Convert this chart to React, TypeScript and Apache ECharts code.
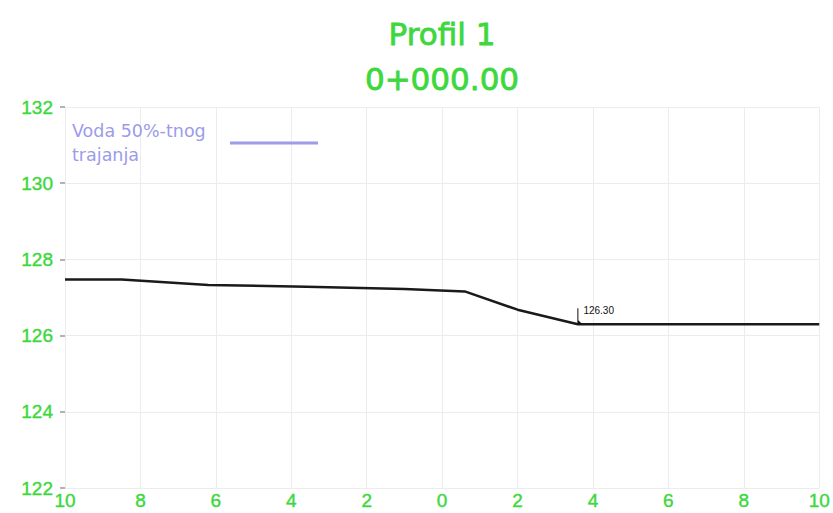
import React, { useEffect, useRef } from "react";
import * as echarts from "echarts";

const titleLines = ["Profil 1", "0+000.00"];
const legendName = "Voda 50%-tnog trajanja";
const legendLines = ["Voda 50%-tnog", "trajanja"];
const groundName = "Teren";

const stationX = [-10, -8.5, -6.2, -3.6, -1, 0.6, 2, 3.6, 10];
const groundY = [127.47, 127.47, 127.33, 127.28, 127.22, 127.16, 126.68, 126.3, 126.3];

const waterX = [3.6];
const waterY = [126.3];

const xTicks = { min: -10, max: 10, interval: 2 };
const yTicks = { min: 122, max: 132, interval: 2 };

const GREEN = "#3dd83d";
const PURPLE = "#9c9ce8";
const FONT = "Liberation Sans, Arial, sans-serif";
const DEJAVU = "DejaVu Sans, sans-serif";

export default function App() {
  const ref = useRef<HTMLDivElement>(null);

  useEffect(() => {
    if (!ref.current) return;
    const chart = echarts.init(ref.current, undefined, { renderer: "svg" });
    const ground = stationX.map((x, i) => [x, groundY[i]]);
    const water = waterX.map((x, i) => [x, waterY[i]]);

    chart.setOption({
      animation: false,
      backgroundColor: "#ffffff",
      title: {
        text: titleLines.join("\n"),
        left: 442,
        textAlign: "center",
        top: 11,
        padding: 0,
        textStyle: {
          color: GREEN,
          fontSize: 31,
          lineHeight: 45,
          fontWeight: "normal",
          fontFamily: DEJAVU,
          textBorderColor: GREEN,
          textBorderWidth: 0.8,
        },
      },
      legend: {
        data: [{ name: legendName, itemStyle: { color: PURPLE } }],
        left: 72,
        top: 119,
        padding: 0,
        align: "right",
        icon: "rect",
        itemWidth: 88,
        itemHeight: 3,
        formatter: () => legendLines.map((l) => "{t|" + l + "}").join("\n"),
        textStyle: {
          color: PURPLE,
          fontSize: 17.5,
          lineHeight: 24,
          fontFamily: DEJAVU,
          rich: {
            t: {
              color: PURPLE,
              fontSize: 17.5,
              lineHeight: 24,
              fontFamily: DEJAVU,
              width: 153,
              align: "left",
            },
          },
        },
      },
      grid: { left: 65, right: 13, top: 107, bottom: 25 },
      xAxis: {
        type: "value",
        min: xTicks.min,
        max: xTicks.max,
        interval: xTicks.interval,
        axisLine: { show: false, onZero: false },
        axisTick: { show: false },
        splitLine: { show: true, lineStyle: { color: "#ececec", width: 1 } },
        axisLabel: {
          color: GREEN,
          fontSize: 19,
          fontFamily: FONT,
          margin: 3,
          textBorderColor: GREEN,
          textBorderWidth: 0.4,
          formatter: (v: number) => String(Math.abs(v)),
        },
      },
      yAxis: {
        type: "value",
        min: yTicks.min,
        max: yTicks.max,
        interval: yTicks.interval,
        axisLine: { show: false, onZero: false },
        axisTick: { show: true, length: 5, lineStyle: { color: "#9a9a9a", width: 1.5 } },
        splitLine: { show: true, lineStyle: { color: "#ececec", width: 1 } },
        axisLabel: {
          color: GREEN,
          fontSize: 19,
          fontFamily: FONT,
          margin: 12,
          textBorderColor: GREEN,
          textBorderWidth: 0.4,
        },
      },
      series: [
        {
          name: groundName,
          type: "line",
          data: ground,
          symbol: "none",
          lineStyle: { color: "#1a1a1a", width: 2.5 },
          z: 3,
        },
        {
          name: legendName,
          type: "line",
          data: water,
          symbol: "path://M0,0 L1,0 L1,12 L5,16 L0,16 Z",
          symbolSize: [5, 16],
          symbolOffset: [2, -8],
          showSymbol: true,
          itemStyle: { color: "#111111" },
          lineStyle: { color: PURPLE, width: 3 },
          label: {
            show: true,
            position: [6, -3],
            formatter: (p: any) => p.value[1].toFixed(2),
            color: "#111111",
            fontSize: 10,
            fontFamily: FONT,
          },
          z: 4,
        },
      ],
    });

    return () => chart.dispose();
  }, []);

  return (
    <div
      ref={ref}
      style={{ position: "absolute", left: 0, top: 0, width: 833, height: 513 }}
    />
  );
}
